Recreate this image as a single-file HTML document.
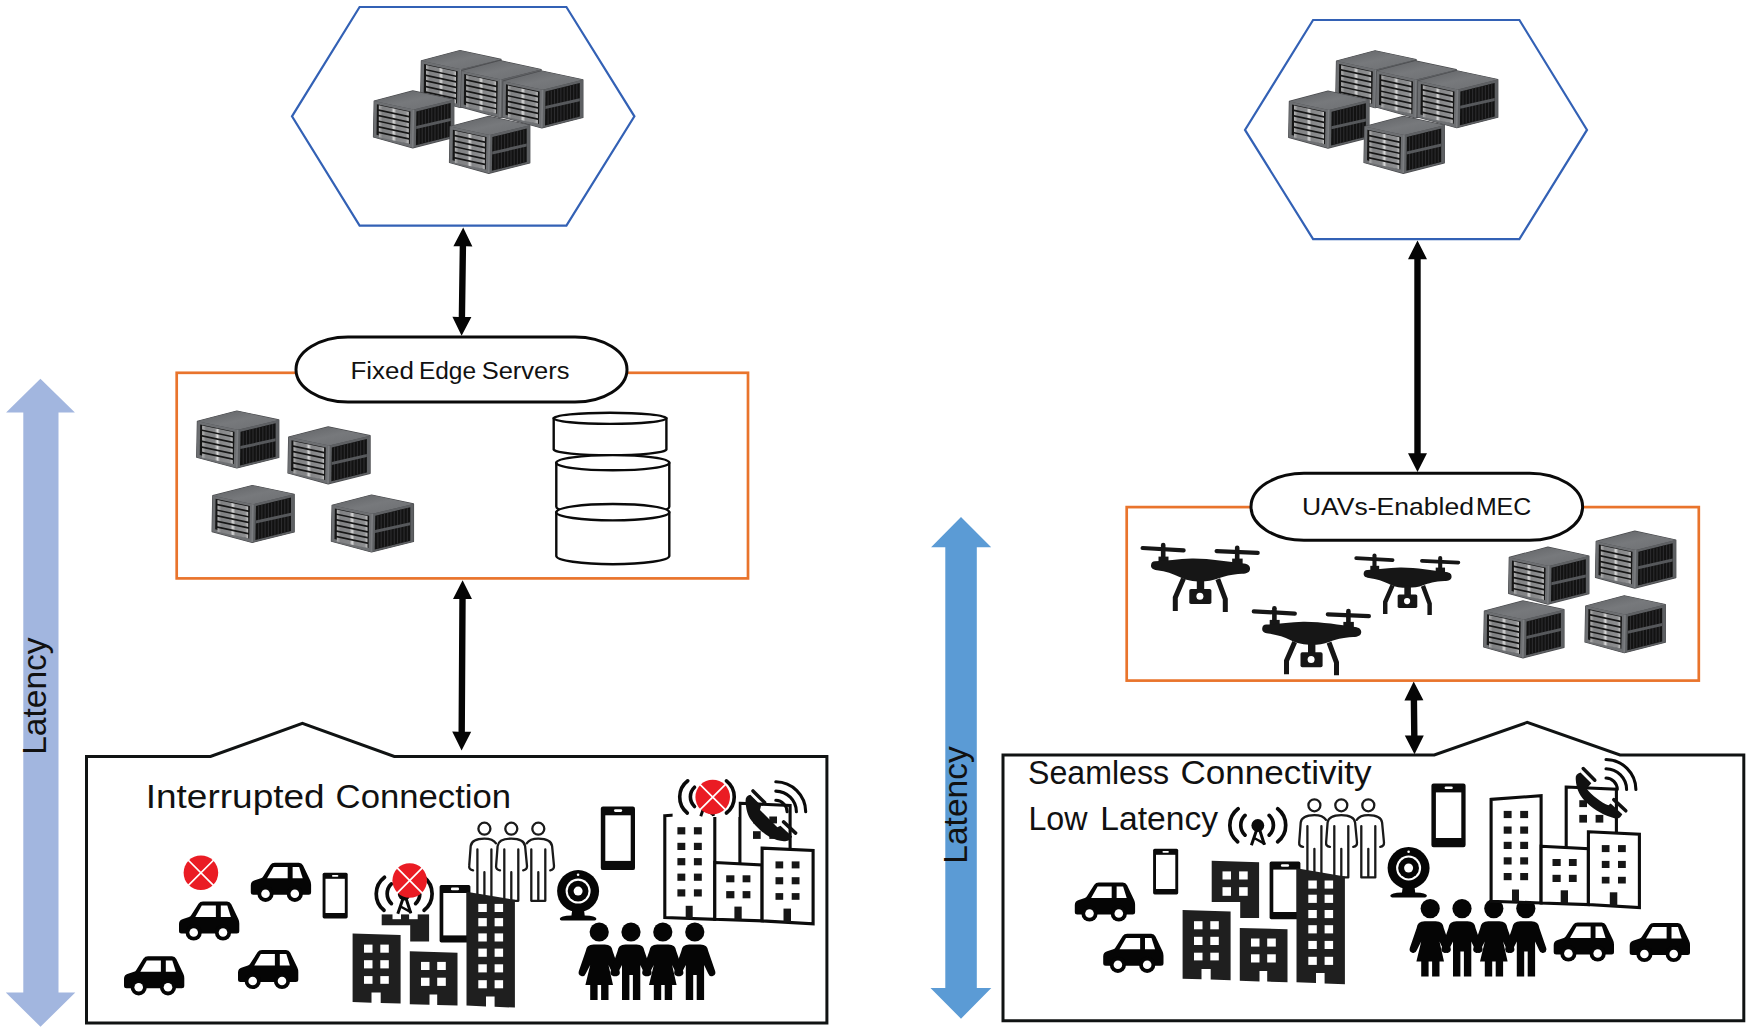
<!DOCTYPE html>
<html lang="en">
<head>
<meta charset="utf-8">
<title>Fixed Edge Servers vs UAVs-Enabled MEC</title>
<style>
html,body{margin:0;padding:0;background:#fff;}
body{width:1750px;height:1033px;overflow:hidden;font-family:"Liberation Sans",sans-serif;}
svg{display:block;}
text{font-family:"Liberation Sans",sans-serif;fill:#111;}
</style>
</head>
<body>
<svg width="1750" height="1033" viewBox="0 0 1750 1033">
<defs>
<linearGradient id="gTop" x1="0" y1="0" x2="1" y2="1">
<stop offset="0" stop-color="#5f6164"/><stop offset="0.5" stop-color="#77797c"/><stop offset="1" stop-color="#6c6e71"/>
</linearGradient>
<linearGradient id="gStrip" x1="0" y1="0" x2="1" y2="0">
<stop offset="0" stop-color="#b5b5b5"/><stop offset="0.12" stop-color="#808183"/><stop offset="0.42" stop-color="#858688"/><stop offset="0.5" stop-color="#dcdcdc"/><stop offset="0.58" stop-color="#858688"/><stop offset="0.9" stop-color="#8e8f91"/><stop offset="1" stop-color="#c4c4c4"/>
</linearGradient>
<g id="srv">
<!-- outline/shadow -->
<polygon points="0.7,10.2 39.3,0 80.3,8.8 80.3,46.4 39.3,56.9 0,46.1" fill="#4a4b4e" stroke="#4a4b4e" stroke-width="1.2" stroke-linejoin="round"/>
<!-- top -->
<polygon points="0.7,10.2 39.3,0 80.3,8.8 40.3,18.7" fill="url(#gTop)"/>
<!-- left face frame -->
<polygon points="0.7,10.2 40.3,18.7 39.3,56.9 0,46.1" fill="#6d6f72"/>
<polygon points="3.4,13.3 37,20.6 36.3,53 3,43.8" fill="#151515"/>
<g fill="url(#gStrip)">
<polygon points="5.3,14.4 35.3,20.9 35.3,24.8 5.3,18.3"/>
<polygon points="5.3,20.0 35.3,26.5 35.3,30.4 5.3,23.9"/>
<polygon points="5.3,25.6 35.3,32.1 35.3,36.0 5.3,29.5"/>
<polygon points="5.3,31.2 35.3,37.7 35.3,41.6 5.3,35.1"/>
<polygon points="5.3,36.8 35.3,43.3 35.3,47.2 5.3,40.7"/>
<polygon points="5.3,42.4 35.3,48.9 35.3,52.8 5.3,46.3"/>
</g>
<!-- right face -->
<polygon points="40.3,18.7 80.3,8.8 80.3,46.4 39.3,56.9" fill="#5e6063"/>
<polygon points="42.9,20.6 77.2,12.1 77.2,45.6 42.4,54.4" fill="#121212"/>
<g stroke="#2c2c2e" stroke-width="1.1">
<line x1="45.5" y1="20.2" x2="45.5" y2="53.4"/><line x1="48.7" y1="19.4" x2="48.7" y2="52.6"/><line x1="51.9" y1="18.6" x2="51.9" y2="51.8"/><line x1="55.1" y1="17.8" x2="55.1" y2="51"/><line x1="58.3" y1="17" x2="58.3" y2="50.2"/><line x1="61.5" y1="16.2" x2="61.5" y2="49.4"/><line x1="64.7" y1="15.4" x2="64.7" y2="48.6"/><line x1="67.9" y1="14.6" x2="67.9" y2="47.8"/><line x1="71.1" y1="13.8" x2="71.1" y2="47"/><line x1="74.3" y1="13" x2="74.3" y2="46.2"/>
</g>
<polygon points="42.7,35 77.2,27.2 77.2,30.2 42.7,38" fill="#56585b"/>
<line x1="40" y1="18.9" x2="39.2" y2="56.6" stroke="#7b7d80" stroke-width="1.6"/>
</g>
<g id="drone" fill="#161616" stroke="none">
<g stroke="#161616" stroke-linecap="round" fill="none">
<line x1="12.6" y1="18" x2="53.6" y2="20.3" stroke-width="4.2"/>
<line x1="86.6" y1="21.1" x2="127.7" y2="22.9" stroke-width="4.2"/>
<line x1="33.2" y1="15" x2="33.2" y2="31" stroke-width="4.6"/>
<line x1="107.2" y1="17.8" x2="107.2" y2="33" stroke-width="4.6"/>
<line x1="33.5" y1="26.6" x2="33.5" y2="32.5" stroke-width="10" stroke-linecap="butt"/>
<line x1="107.4" y1="28.6" x2="107.4" y2="34.5" stroke-width="10.5" stroke-linecap="butt"/>
<polyline points="53.5,48.6 45.3,67.4 45.3,80.9" stroke-width="5" stroke-linecap="butt" stroke-linejoin="miter"/>
<polyline points="87.8,49.2 95.3,69.2 95.3,81.9" stroke-width="5" stroke-linecap="butt" stroke-linejoin="miter"/>
</g>
<path d="M25,31.3 C36,31 48,28.6 62,28.4 C80,28.2 98,31.6 114,33.6 C118.5,34.2 120.3,36.2 120,39.2 C119.7,42.2 117,43.6 112,43.8 C101,44.4 94,46.4 88,48.6 C82,50.8 76,51.6 68,51.4 C60,51.2 55,49.8 49,46.8 C43,43.8 36,41.4 27,40.2 C22.5,39.6 20.8,37.8 21,35.2 C21.2,32.6 22.5,31.4 25,31.3 Z"/>
<rect x="66.8" y="49" width="7.4" height="12"/>
<rect x="59.3" y="58.9" width="22.1" height="15.1" rx="1.8"/>
<circle cx="69.9" cy="66.3" r="3.5" fill="#fff"/>
</g>
<g id="car">
<path d="M24,0 H48 Q51,0 52.3,2.8 L59.3,17.5 Q60.3,19.5 60.3,22 V29.5 Q60.3,32 57.8,32 H2.5 Q0,32 0,29.5 V22.5 Q0,18.5 4,17.5 L10,15.5 Q11.5,15 12.3,13.6 L19.5,2.3 Q21,0 24,0 Z" fill="#050505"/>
<polygon points="22.8,4.1 36.9,4.1 36.9,15.4 16.3,15.4" fill="#fff"/>
<polygon points="41.8,4.1 48.3,4.1 51.9,15.4 41.8,15.4" fill="#fff"/>
<circle cx="14.7" cy="31" r="8.1" fill="#050505"/><circle cx="14.7" cy="31" r="4.3" fill="#fff"/>
<circle cx="44" cy="31" r="8.1" fill="#050505"/><circle cx="44" cy="31" r="4.3" fill="#fff"/>
</g>
<g id="redx">
<circle r="17.3" fill="#ea1c24"/>
<path d="M-12.8,-12.8 L12.8,12.8 M12.8,-12.8 L-12.8,12.8" stroke="#fff" stroke-width="1.7" fill="none"/>
</g>
<g id="phS">
<rect x="0" y="0" width="25.1" height="45.6" rx="1.6" fill="#0a0a0a"/>
<rect x="2.9" y="6" width="19.3" height="34.2" fill="#fff"/>
<rect x="9.4" y="2.2" width="6.3" height="1.7" rx="0.8" fill="#fff"/>
</g>
<g id="phM">
<rect x="0" y="0" width="30.8" height="57.6" rx="1.8" fill="#0a0a0a"/>
<rect x="3.7" y="8" width="23.3" height="42.4" fill="#fff"/>
<rect x="11.3" y="2.6" width="8.2" height="2.6" rx="1.3" fill="#fff"/>
</g>
<g id="phL">
<rect x="0" y="0" width="34.2" height="63.6" rx="2.2" fill="#0a0a0a"/>
<rect x="4.5" y="8.8" width="25.4" height="45.6" fill="#fff"/>
<rect x="13.2" y="2.8" width="8.2" height="2.6" rx="1.3" fill="#fff"/>
</g>
<g id="tower" fill="none" stroke="#0a0a0a" stroke-linecap="round">
<circle r="6.4" fill="#0a0a0a" stroke="none"/>
<path d="M-1.1,4.3 L-6.4,19.7 M1.8,4.3 L6.6,19.2" stroke-width="3" stroke-linecap="butt"/>
<path d="M-3.2,12.8 L6.6,18.1" stroke-width="2.4"/>
<path d="M-19.7,-16.7 A21,21 0 0 0 -20.2,16.3 M19.9,-16.7 A21,21 0 0 1 19.9,16.3" stroke-width="3.7"/>
<path d="M-12.8,-10.1 A13.6,13.6 0 0 0 -12.8,9.6 M11.4,-10.1 A13.6,13.6 0 0 1 11.4,9.6" stroke-width="3.7"/>
</g>
<g id="pOut" fill="none" stroke="#1a1a1a" stroke-width="2.3" stroke-linecap="round" stroke-linejoin="round">
<circle cx="0" cy="0" r="6"/>
<path d="M-11.3,41.6 Q-15.6,41 -15.2,37.2 L-13.7,17.4 Q-12.8,10 0,9.9 Q12.8,10 13.8,17.4 L15.7,37.2 Q15.9,41 11.9,41.6"/>
<path d="M-7,20.8 V72.1 H7 V20.8 M0,43.5 V72.1"/>
</g>
<g id="pOutL" fill="none" stroke="#1a1a1a" stroke-width="2.3" stroke-linecap="round" stroke-linejoin="round">
<circle cx="0" cy="0" r="6"/>
<path d="M-11.3,41.6 Q-15.6,41 -15.2,37.2 L-13.7,17.4 Q-12.8,10 0,9.9 Q8.5,10 11.6,14.6"/>
<path d="M-7,20.8 V72.1 H7 V20.8 M0,43.5 V72.1"/>
</g>
<g id="pOutR" fill="none" stroke="#1a1a1a" stroke-width="2.3" stroke-linecap="round" stroke-linejoin="round">
<circle cx="0" cy="0" r="6"/>
<path d="M-11.6,14.6 Q-8.5,10 0,9.9 Q12.8,10 13.8,17.4 L15.7,37.2 Q15.9,41 11.9,41.6"/>
<path d="M-7,20.8 V72.1 H7 V20.8 M0,43.5 V72.1"/>
</g>
<g id="man" fill="#050505">
<circle r="9.6"/>
<path d="M-5.5,12.6 H5.5 Q13,12.6 13.6,19.6 L20.4,39.3 Q21.4,43 18,44.1 Q14.6,45 13.4,41.6 L9.3,33 V68 H1.9 V43 H-1.6 V68 H-9 V33 L-13.4,41.6 Q-14.6,45 -18,44.1 Q-21.4,43 -20.4,39.3 L-13.6,19.6 Q-13,12.6 -5.5,12.6 Z"/>
</g>
<g id="woman" fill="#050505">
<circle r="9.6"/>
<path d="M-5.5,12.6 H5.5 Q13,12.6 13.6,19.6 L20.4,39.3 Q21.4,43 18,44.1 Q14.6,45 13.4,41.6 L9.3,33 L13.8,53 H9.3 V68 H1.9 V53 H-1.6 V68 H-9 V53 H-13.8 L-9,33 L-13.4,41.6 Q-14.6,45 -18,44.1 Q-21.4,43 -20.4,39.3 L-13.6,19.6 Q-13,12.6 -5.5,12.6 Z"/>
</g>
<g id="webcam">
<circle r="21" fill="#050505"/>
<circle r="12.5" fill="#fff"/><circle r="10.4" fill="#050505"/><circle r="4.5" fill="#fff"/>
<circle cx="0" cy="-16.3" r="1.3" fill="#fff"/>
<path d="M-5.8,18 H5.8 L6.6,24.4 Q18,24.8 18.3,27.6 Q18.4,29.4 16.5,29.4 H-16.5 Q-18.4,29.4 -18.3,27.6 Q-18,24.8 -6.6,24.4 Z" fill="#050505"/>
</g>
<g id="handset">
<path d="M10.7,28.9 C11.3,40 15.5,47 22,53 C30,60.3 40,66 50.2,68.4 C53.5,69.2 55.6,67.5 57.3,64.3 L45.7,53.4 L43.4,55.2 C37,53 26.5,45 21.7,38.7 L26.3,33.3 L15.5,22.5 C12,23.5 10.4,25.5 10.7,28.9 Z" fill="#111"/>
<path d="M18.2,18.6 L29.8,30.2 M48.8,49.6 L60.8,60.8" stroke="#111" stroke-width="3.5" stroke-linecap="round" fill="none"/>
<g fill="none" stroke="#0a0a0a" stroke-width="3.1" stroke-linecap="round">
<path d="M41,9.5 A30.3,30.3 0 0 1 70.9,39.4"/>
<path d="M41,18.8 A20.9,20.9 0 0 1 61.6,39.4"/>
<path d="M41,28 A11.7,11.7 0 0 1 52.3,39.4"/>
</g>
</g>
<g id="handsetL">
<path d="M10.8,30 C11.5,40 14,45.5 17.8,49.6 C22,55 28,60.5 34.1,64.3 C40,67.5 45,69 49.6,68.9 C53.5,69.2 55.6,67.5 57.3,64.3 L45.7,53.4 L42.5,55 L25.2,37.6 L26.3,33.3 L15.5,22.5 C12,23.5 10.4,25.5 10.8,30 Z" fill="#111"/>
<path d="M18.2,18.6 L29.8,30.2 M48.8,49.6 L60.8,60.8" stroke="#111" stroke-width="3.5" stroke-linecap="round" fill="none"/>
<g fill="none" stroke="#0a0a0a" stroke-width="3.1" stroke-linecap="round">
<path d="M41,9.5 A30.3,30.3 0 0 1 70.9,39.4"/>
<path d="M41,18.8 A20.9,20.9 0 0 1 61.6,39.4"/>
<path d="M41,28 A11.7,11.7 0 0 1 52.3,39.4"/>
</g>
</g>
<g id="ppl3">
<use href="#pOutL" x="1314.4" y="805.3"/>
<use href="#pOutR" x="1368.3" y="805.3"/>
<use href="#pOut" x="1341.3" y="805.3"/>
</g>
<g id="city">
<g fill="#1f1f1f">
<polygon points="1211.7,860.8 1259.1,862.2 1259.1,918.1 1240.2,918.1 1240.2,901.9 1211.7,901.9"/>
<polygon points="1182.6,910 1230.6,911.6 1230.6,980.2 1210.7,979.6 1210.7,969 1201.5,969 1201.5,979.3 1182.6,978.7"/>
<polygon points="1239.8,927.9 1287.5,929.3 1287.5,982.2 1267.2,981.6 1267.2,971 1259.5,971 1259.5,981.4 1239.8,980.8"/>
<polygon points="1296.5,868.3 1344.9,876.4 1344.9,984.2 1324.6,983.4 1324.6,973 1316,973 1316,983 1296.5,982.2"/>
</g>
<g fill="#fff"><rect x="1222.5" y="871.4" width="8.5" height="8.1"/><rect x="1222.5" y="887.2" width="8.5" height="8.6"/><rect x="1239.1" y="871.4" width="8.6" height="8.1"/><rect x="1239.1" y="887.2" width="8.6" height="8.6"/></g>
<g fill="#fff"><rect x="1194.0" y="921.2" width="8.5" height="8.1"/><rect x="1194.0" y="936.8" width="8.5" height="8.2"/><rect x="1194.0" y="952.7" width="8.5" height="7.7"/><rect x="1210.3" y="921.2" width="8.5" height="8.1"/><rect x="1210.3" y="936.8" width="8.5" height="8.2"/><rect x="1210.3" y="952.7" width="8.5" height="7.7"/></g>
<g fill="#fff"><rect x="1251.0" y="938.5" width="8.5" height="8.1"/><rect x="1251.0" y="954.3" width="8.5" height="8.2"/><rect x="1267.2" y="938.5" width="8.6" height="8.1"/><rect x="1267.2" y="954.3" width="8.6" height="8.2"/></g>
<g fill="#fff"><rect x="1308.3" y="880.5" width="8.5" height="8.1"/><rect x="1308.3" y="894.7" width="8.5" height="8.2"/><rect x="1308.3" y="910.0" width="8.5" height="8.1"/><rect x="1308.3" y="925.2" width="8.5" height="8.2"/><rect x="1308.3" y="940.9" width="8.5" height="8.1"/><rect x="1308.3" y="956.8" width="8.5" height="8.1"/><rect x="1324.6" y="880.5" width="8.5" height="8.1"/><rect x="1324.6" y="894.7" width="8.5" height="8.2"/><rect x="1324.6" y="910.0" width="8.5" height="8.1"/><rect x="1324.6" y="925.2" width="8.5" height="8.2"/><rect x="1324.6" y="940.9" width="8.5" height="8.1"/><rect x="1324.6" y="956.8" width="8.5" height="8.1"/></g>
</g>
<g id="wcity">
<g fill="#fff" stroke="#0c0c0c" stroke-width="3.1" stroke-linejoin="miter">
<polygon points="1566.2,787 1616.4,789.2 1616.4,850 1566.2,850"/>
<polygon points="1491.1,799.4 1541.1,795.7 1541.1,903 1491.1,901.3"/>
<polygon points="1541.1,846.2 1588.4,848.7 1588.4,904.6 1541.1,903"/>
<polygon points="1588.4,831.8 1639.4,834.2 1639.4,907.6 1588.4,904.6"/>
</g>
<g fill="#161616"><rect x="1503.7" y="810.9" width="7.9" height="7.2"/><rect x="1503.7" y="826.5" width="7.9" height="7.2"/><rect x="1503.7" y="841.8" width="7.9" height="7.2"/><rect x="1503.7" y="857.3" width="7.9" height="7.2"/><rect x="1503.7" y="873.0" width="7.9" height="7.2"/><rect x="1520.2" y="810.9" width="7.9" height="7.2"/><rect x="1520.2" y="826.5" width="7.9" height="7.2"/><rect x="1520.2" y="841.8" width="7.9" height="7.2"/><rect x="1520.2" y="857.3" width="7.9" height="7.2"/><rect x="1520.2" y="873.0" width="7.9" height="7.2"/></g>
<g fill="#161616"><rect x="1552.5" y="859.0" width="8.2" height="7.0"/><rect x="1552.5" y="874.8" width="8.2" height="7.2"/><rect x="1568.9" y="859.0" width="7.8" height="7.0"/><rect x="1568.9" y="874.8" width="7.8" height="7.2"/></g>
<g fill="#161616"><rect x="1601.8" y="845.1" width="7.7" height="7.0"/><rect x="1601.8" y="860.9" width="7.7" height="7.1"/><rect x="1601.8" y="876.8" width="7.7" height="6.7"/><rect x="1618.0" y="845.1" width="7.8" height="7.0"/><rect x="1618.0" y="860.9" width="7.8" height="7.1"/><rect x="1618.0" y="876.8" width="7.8" height="6.7"/></g>
<g fill="#161616"><rect x="1579.3" y="800.2" width="7.7" height="6.9"/><rect x="1579.3" y="814.9" width="7.7" height="7.7"/><rect x="1595.6" y="814.9" width="7.7" height="7.7"/></g>
<g fill="#161616">
<rect x="1512" y="889.5" width="7" height="12.8"/>
<rect x="1560.7" y="890.3" width="7.3" height="13.5"/>
<rect x="1609.8" y="892.3" width="7.5" height="14"/>
</g>
</g>
<!--DEFS-->
</defs>
<rect width="1750" height="1033" fill="#fff"/>

<!-- ===== LEFT DIAGRAM ===== -->
<g id="left-top">
<polygon points="359.6,7 566.4,7 634.4,116.3 566.4,225.6 359.6,225.6 292,116.3" fill="#fff" stroke="#3361b5" stroke-width="2.2"/>
<use href="#srv" x="420.7" y="50.6"/>
<use href="#srv" x="460.8" y="60.7"/>
<use href="#srv" x="502.6" y="71.0"/>
<use href="#srv" x="373.5" y="90.9"/>
<use href="#srv" x="449.5" y="116.4"/>

</g>

<!-- arrows -->
<g fill="#050505" stroke="none">
<polygon points="463.2,227.5 453.4,246.2 459.7,246.3 458.7,316.9 452.4,316.8 461.6,335.7 471.4,317.0 465.1,316.9 466.1,246.3 472.4,246.4"/>
<polygon points="462.6,580.2 453.0,598.9 459.3,599.0 458.5,731.7 452.2,731.6 461.6,750.5 471.2,731.8 464.9,731.7 465.7,599.0 472.0,599.1"/>
<polygon points="1417.5,240.4 1408.0,259.2 1414.3,259.2 1414.3,453.3 1408.0,453.3 1417.5,472.1 1427.0,453.3 1420.7,453.3 1420.7,259.2 1427.0,259.2"/>
<polygon points="1413.7,681.6 1404.4,700.5 1410.7,700.4 1411.1,735.5 1404.8,735.6 1414.5,754.3 1423.8,735.4 1417.5,735.5 1417.1,700.4 1423.4,700.3"/>
</g>

<!-- orange boxes -->
<rect x="176.7" y="372.8" width="571.3" height="205.6" fill="none" stroke="#e9742c" stroke-width="2.7"/>
<rect x="1126.7" y="507.1" width="572.1" height="173.5" fill="none" stroke="#e9742c" stroke-width="2.7"/>

<!-- pills -->
<rect x="296" y="337" width="331" height="65.1" rx="52" ry="32.55" fill="#fff" stroke="#0a0a0a" stroke-width="3"/>
<text y="378.6" font-size="24.4"><tspan x="350.5" textLength="63.3" lengthAdjust="spacingAndGlyphs">Fixed</tspan> <tspan x="418.9" textLength="57.2" lengthAdjust="spacingAndGlyphs">Edge</tspan> <tspan x="481.7" textLength="87.8" lengthAdjust="spacingAndGlyphs">Servers</tspan></text>
<rect x="1251" y="473.3" width="331.6" height="66.9" rx="53" ry="33.45" fill="#fff" stroke="#0a0a0a" stroke-width="3"/>
<text y="514.9" font-size="24.4"><tspan x="1301.9" textLength="172.0" lengthAdjust="spacingAndGlyphs">UAVs-Enabled</tspan> <tspan x="1475.9" textLength="55.3" lengthAdjust="spacingAndGlyphs">MEC</tspan></text>

<!-- latency arrows -->
<path d="M40.4,378.7 L74.9,412.6 H58.5 V992.4 H75.3 L40.5,1026.8 L5.8,992.4 H23.3 V412.6 H6.1 Z" fill="#a2b6df"/>
<text transform="translate(45.6,754.8) rotate(-90)" font-size="33" textLength="117.3" lengthAdjust="spacingAndGlyphs">Latency</text>
<path d="M961,516.9 L991.2,547.2 H976.8 V988 H991.3 L961,1018.7 L930.5,988 H945.3 V547.2 H931.1 Z" fill="#5b9bd5"/>
<text transform="translate(967.4,863.7) rotate(-90)" font-size="33.5" textLength="117.4" lengthAdjust="spacingAndGlyphs">Latency</text>

<!-- bottom boxes -->
<path d="M86.5,756.5 H210.5 L302.4,723.4 L394.3,756.5 H826.9 V1023.1 H86.5 Z" fill="#fff" stroke="#101313" stroke-width="3" stroke-linejoin="miter"/>
<path d="M1003,754.9 H1434.3 L1527.2,722.4 L1620,754.9 H1743.8 V1020.8 H1003 Z" fill="#fff" stroke="#101313" stroke-width="3" stroke-linejoin="miter"/>

<text y="807.8" font-size="33"><tspan x="145.7" textLength="179.0" lengthAdjust="spacingAndGlyphs">Interrupted</tspan> <tspan x="335.6" textLength="175.5" lengthAdjust="spacingAndGlyphs">Connection</tspan></text>
<text y="783.9" font-size="33"><tspan x="1028" textLength="141.0" lengthAdjust="spacingAndGlyphs">Seamless</tspan> <tspan x="1180.4" textLength="191.2" lengthAdjust="spacingAndGlyphs">Connectivity</tspan></text>
<text y="830.2" font-size="33"><tspan x="1028.4" textLength="59.1" lengthAdjust="spacingAndGlyphs">Low</tspan> <tspan x="1100.2" textLength="117.9" lengthAdjust="spacingAndGlyphs">Latency</tspan></text>

<g id="left-mid">
<use href="#srv" transform="translate(196.7,411.1) scale(1.022,1)"/>
<use href="#srv" transform="translate(288.0,426.9) scale(1.022,1)"/>
<use href="#srv" transform="translate(212.1,485.5) scale(1.022,1)"/>
<use href="#srv" transform="translate(331.4,495.1) scale(1.022,1)"/>
<g id="db" fill="#fff" stroke="#0a0a0a" stroke-width="2.4" stroke-linejoin="round">
<path d="M556.3,512.2 V556 A56.5,8.2 0 0 0 669.3,556 V512.2 Z"/>
<path d="M556.3,462.7 V506.8 A56.5,8.2 0 0 0 669.3,506.8 V462.7 Z"/>
<ellipse cx="612.8" cy="512.2" rx="56.5" ry="8.2"/>
<path d="M553.7,418.3 V449.5 A56.4,6 0 0 0 666.4,449.5 V418.3 Z"/>
<ellipse cx="612.8" cy="462.7" rx="56.5" ry="7.6"/>
<ellipse cx="610" cy="418.3" rx="56.4" ry="5.6"/>
</g>
</g>
<g id="right-top">
<polygon points="1313.1,20 1519.4,20 1587,129.9 1519.4,239.1 1313.1,239.1 1245,129.9" fill="#fff" stroke="#3361b5" stroke-width="2.2"/>
<use href="#srv" x="1335.8" y="50.8"/>
<use href="#srv" x="1376.0" y="60.9"/>
<use href="#srv" x="1417.5" y="70.8"/>
<use href="#srv" x="1288.7" y="91.2"/>
<use href="#srv" x="1364.0" y="116.4"/>
</g>
<g id="right-mid">
<use href="#srv" x="1508.6" y="547.2"/>
<use href="#srv" x="1595.5" y="531.2"/>
<use href="#srv" x="1483.7" y="600.9"/>
<use href="#srv" x="1585.0" y="595.8"/>
<use href="#drone" x="1130" y="530"/>
<use href="#drone" transform="translate(1345,542.2) scale(0.888)"/>
<use href="#drone" x="1241.2" y="593.3"/>

</g>
<g id="left-box">
<use href="#car" x="250.8" y="862.8"/>
<use href="#car" x="179" y="901.5"/>
<use href="#car" x="124" y="956.3"/>
<use href="#car" x="238" y="950"/>
<use href="#phS" x="322.6" y="872.8"/>
<g transform="translate(-830,23.4)">
<use href="#ppl3"/>
<use href="#phM" x="1269.6" y="861.6"/>
<use href="#city"/>
</g>
<rect x="372" y="862" width="66.6" height="52.4" fill="#fff"/>
<use href="#tower" x="404.2" y="894"/>
<use href="#redx" x="409.7" y="880.5"/>
<use href="#redx" x="200.9" y="872.8"/>
<use href="#phL" x="600.8" y="806.5"/>
<use href="#webcam" x="578.1" y="891.1"/>
<use href="#woman" x="599.2" y="932"/>
<use href="#man" x="631" y="932"/>
<use href="#woman" x="662.8" y="932"/>
<use href="#man" x="694.8" y="932"/>
<use href="#wcity" transform="translate(-826.3,16.3)"/>
<rect x="672.6" y="772" width="66" height="45" fill="#fff"/>
<use href="#tower" transform="translate(707,797.1) scale(0.976)"/>
<use href="#redx" x="712.7" y="797.1"/>
<rect x="769.3" y="816.5" width="7.7" height="6.9" fill="#161616"/>
<use href="#handsetL" x="734.8" y="772.3"/>
</g>

<g id="right-box">
<use href="#car" x="1074.8" y="882.5"/>
<use href="#car" x="1103.2" y="933.8"/>
<use href="#car" x="1553.7" y="922.5"/>
<use href="#car" x="1629.7" y="923"/>
<use href="#phS" x="1153.1" y="848.8"/>
<use href="#tower" x="1257.8" y="825.5"/>
<use href="#ppl3"/>
<use href="#phM" x="1269.6" y="861.6"/>
<use href="#city"/>
<use href="#phL" x="1431.4" y="783.6"/>
<use href="#webcam" x="1408.6" y="868"/>
<use href="#woman" x="1430.2" y="908.6"/>
<use href="#man" x="1462" y="908.6"/>
<use href="#woman" x="1493.8" y="908.6"/>
<use href="#man" x="1525.8" y="908.6"/>
<use href="#wcity"/>
<use href="#handset" x="1565" y="750"/>
</g>

</svg>
</body>
</html>
